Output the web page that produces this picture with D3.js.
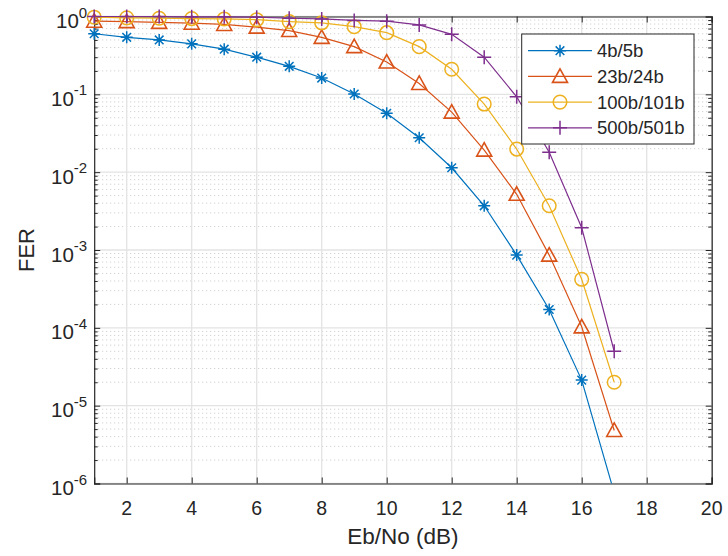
<!DOCTYPE html>
<html><head><meta charset="utf-8">
<script src="https://cdn.jsdelivr.net/npm/d3@7"></script>
<style>body{margin:0;background:#fff}svg{display:block}text{font-family:"Liberation Sans",Arial,sans-serif;fill:#262626}</style>
</head><body><svg id="c" width="728" height="556"></svg>
<script>
const ebno = [1,2,3,4,5,6,7,8,9,10,11,12,13,14,15,16,17];
const fer4b5b = [0.6,0.54,0.5,0.445,0.38,0.30,0.229,0.162,0.101,0.057,0.0277,0.0114,0.0037,8.6e-4,1.72e-4,2.13e-5,7.6e-7];
const fer23b24b = [0.87,0.86,0.84,0.82,0.79,0.73,0.66,0.54,0.41,0.26,0.138,0.059,0.0192,0.0052,8.6e-4,1.03e-4,4.8e-6];
const fer100b101b = [0.98,0.96,0.95,0.94,0.93,0.91,0.86,0.83,0.74,0.62,0.41,0.21,0.075,0.0198,0.0037,4.2e-4,2.0e-5];
const fer500b501b = [1.0,1.0,1.0,0.99,0.99,0.98,0.95,0.93,0.89,0.87,0.78,0.59,0.30,0.093,0.018,1.93e-3,5.0e-5];
const seriesNames = ["4b/5b","23b/24b","100b/101b","500b/501b"];
const seriesColors = ["#0072BD","#D95319","#EDB120","#7E2F8E"];
const seriesMarkers = ["star","triangle","circle","plus"];
const xTicks = [2,4,6,8,10,12,14,16,18,20];
const yExps = [0,-1,-2,-3,-4,-5,-6];
const xLabel = "Eb/No (dB)", yLabel = "FER";

const L=94.2, R=711.7, T=16.5, B=483.5;
const svg = d3.select("#c");
const x = d3.scaleLinear().domain([1,20]).range([L,R]);
const y = d3.scaleLog().domain([1e-6,1]).range([B,T]);

// minor grid
const minorVals=[];
for(let e=-6;e<0;e++) for(let m=2;m<=9;m++) minorVals.push(m*Math.pow(10,e));
svg.append("g").selectAll("line").data(minorVals).join("line")
  .attr("x1",L).attr("x2",R).attr("y1",d=>y(d)).attr("y2",d=>y(d))
  .attr("stroke","#c8c8c8").attr("stroke-width",1).attr("stroke-dasharray","1,3");
// major grid
svg.append("g").selectAll("line").data(xTicks).join("line")
  .attr("x1",d=>x(d)).attr("x2",d=>x(d)).attr("y1",T).attr("y2",B)
  .attr("stroke","#e3e3e3").attr("stroke-width",1.3);
svg.append("g").selectAll("line").data(yExps).join("line")
  .attr("x1",L).attr("x2",R).attr("y1",d=>y(Math.pow(10,d))).attr("y2",d=>y(Math.pow(10,d)))
  .attr("stroke","#e3e3e3").attr("stroke-width",1.3);

// axes
const axC="#262626";
const gb = svg.append("g").attr("transform",`translate(0,${B})`).call(d3.axisBottom(x).tickValues(xTicks).tickSize(-6).tickFormat(""));
const gt = svg.append("g").attr("transform",`translate(0,${T})`).call(d3.axisTop(x).tickValues(xTicks).tickSize(-6).tickFormat(""));
const yMajor = yExps.map(e=>Math.pow(10,e));
const gl = svg.append("g").attr("transform",`translate(${L},0)`).call(d3.axisLeft(y).tickValues(yMajor).tickSize(-6).tickFormat(""));
const gr = svg.append("g").attr("transform",`translate(${R},0)`).call(d3.axisRight(y).tickValues(yMajor).tickSize(-6).tickFormat(""));
const glm = svg.append("g").attr("transform",`translate(${L},0)`).call(d3.axisLeft(y).tickValues(minorVals).tickSize(-3.5).tickFormat(""));
const grm = svg.append("g").attr("transform",`translate(${R},0)`).call(d3.axisRight(y).tickValues(minorVals).tickSize(-3.5).tickFormat(""));
[gb,gt,gl,gr,glm,grm].forEach(g=>{g.select(".domain").attr("stroke",axC).attr("stroke-width",1.2);g.selectAll(".tick line").attr("stroke",axC).attr("stroke-width",1);});
[glm,grm].forEach(g=>g.select(".domain").remove());

// tick labels
svg.append("g").selectAll("text").data(xTicks).join("text")
  .attr("x",d=>x(d)).attr("y",B+31.5).attr("text-anchor","middle").attr("font-size",19.5).text(d=>d);
const yl = svg.append("g").selectAll("text").data(yExps).join("text")
  .attr("x",L-7).attr("y",d=>y(Math.pow(10,d))+11.5).attr("text-anchor","end").attr("font-size",20.5);
yl.append("tspan").text("10");
yl.append("tspan").attr("dy",-10.5).attr("font-size",15).text(d=>d===0?"0":"-"+(-d));

svg.append("text").attr("x",(L+R)/2).attr("y",544).attr("text-anchor","middle").attr("font-size",22.5).text(xLabel);
svg.append("text").attr("transform",`translate(33.5,${(T+B)/2}) rotate(-90)`).attr("text-anchor","middle").attr("font-size",22).text(yLabel);

// markers
function marker(g,type,color,cx,cy){
  if(type==="star"){
    const s=6, d=s*0.72;
    g.append("path").attr("d",`M${cx-s},${cy}H${cx+s}M${cx},${cy-s}V${cy+s}M${cx-d},${cy-d}L${cx+d},${cy+d}M${cx-d},${cy+d}L${cx+d},${cy-d}`)
      .attr("stroke",color).attr("stroke-width",1.5).attr("fill","none");
  } else if(type==="triangle"){
    const s=7.5;
    g.append("path").attr("d",`M${cx},${cy-s}L${cx+s},${cy+s*0.8}L${cx-s},${cy+s*0.8}Z`)
      .attr("stroke",color).attr("stroke-width",1.6).attr("fill","none");
  } else if(type==="circle"){
    g.append("circle").attr("cx",cx).attr("cy",cy).attr("r",6.8)
      .attr("stroke",color).attr("stroke-width",1.5).attr("fill","none");
  } else {
    const s=7;
    g.append("path").attr("d",`M${cx-s},${cy}H${cx+s}M${cx},${cy-s}V${cy+s}`)
      .attr("stroke",color).attr("stroke-width",1.5).attr("fill","none");
  }
}

svg.append("clipPath").attr("id","clip").append("rect").attr("x",L).attr("y",T-12).attr("width",R-L+12).attr("height",B-T+12);
const allSeries=[fer4b5b,fer23b24b,fer100b101b,fer500b501b];
const line=d3.line().x((d,i)=>x(ebno[i])).y(d=>y(d));
const plotG=svg.append("g");
allSeries.forEach((vals,k)=>{
  const g=plotG.append("g");
  g.append("path").attr("d",line(vals)).attr("fill","none").attr("stroke",seriesColors[k]).attr("stroke-width",1.2).attr("clip-path","url(#clip)");
  vals.forEach((v,i)=>{ if(v>=1e-6) marker(g,seriesMarkers[k],seriesColors[k],x(ebno[i]),y(v)); });
});

// legend
const lg=svg.append("g");
lg.append("rect").attr("x",521.7).attr("y",34).attr("width",172.3).attr("height",110).attr("fill","#fff").attr("stroke",axC).attr("stroke-width",1);
seriesNames.forEach((n,k)=>{
  const cy=50.7+k*25.7;
  lg.append("line").attr("x1",528).attr("x2",592).attr("y1",cy).attr("y2",cy).attr("stroke",seriesColors[k]).attr("stroke-width",1.2);
  marker(lg,seriesMarkers[k],seriesColors[k],560,cy);
  lg.append("text").attr("x",597).attr("y",cy+6.5).attr("font-size",18.5).text(n);
});
</script></body></html>
